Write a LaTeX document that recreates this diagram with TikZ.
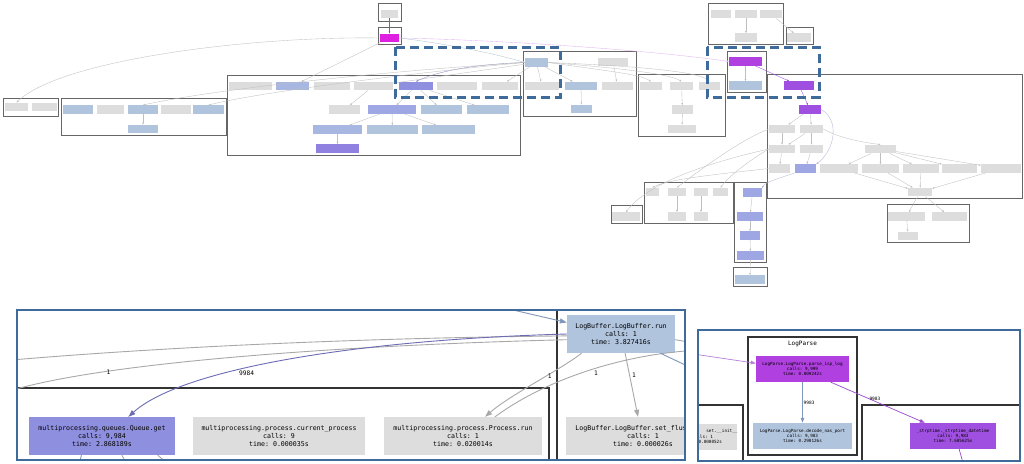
\documentclass[tikz,border=0pt]{standalone}
\usepackage{xcolor}
\usepackage{fontspec}
\setmonofont{DejaVu Sans Mono}
\usepackage{tikz}
\usetikzlibrary{arrows.meta}
\definecolor{nodegray}{HTML}{DDDDDD}
\definecolor{nodeblue}{HTML}{B0C4DE}
\definecolor{nodeviolet}{HTML}{8F8FE0}
\definecolor{nodelavender}{HTML}{9EA6E4}
\definecolor{nodeperi}{HTML}{A8B6E2}
\definecolor{nodepurple}{HTML}{9080E0}
\definecolor{nodeorchid}{HTML}{B040E0}
\definecolor{nodestrp}{HTML}{A050E0}
\definecolor{nodemagenta}{HTML}{E020E0}
\definecolor{panelblue}{HTML}{3E6A9C}
\definecolor{edgegray}{HTML}{A8A8A8}
\definecolor{edgeviolet}{HTML}{6C6CB4}
\definecolor{edgesteel}{HTML}{7F97B8}
\definecolor{edgeorchid}{HTML}{9A48CC}
\tikzset{
    tinynode/.style={inner sep=0pt,minimum height=8.5pt},
    bignode/.style={align=center,inner sep=0pt,minimum height=38pt,font=\ttfamily\fontsize{6.6}{8}\selectfont},
    smallnode/.style={align=center,inner sep=0pt,minimum height=26pt,font=\ttfamily\fontsize{4.3}{5.2}\selectfont},
    cluster/.style={draw=black!60,line width=0.7pt},
    bigcluster/.style={draw=black!80,line width=1.6pt},
    zoombox/.style={draw=panelblue,line width=3pt,dash pattern=on 9pt off 5pt},
    panel/.style={draw=panelblue,line width=2pt},
    tlink/.style={-{Triangle[length=2pt,width=1.6pt]},draw=black!25,line width=0.35pt},
    link/.style={->,draw=edgegray,line width=0.9pt},
    midlink/.style={-{Triangle[length=5pt,width=3.6pt]},draw=edgegray,line width=0.7pt},
    elabel/.style={font=\ttfamily\fontsize{6.2}{7}\selectfont,inner sep=1pt},
    slabel/.style={font=\ttfamily\fontsize{4.5}{5}\selectfont,inner sep=0.8pt},
    clabel/.style={font=\ttfamily\fontsize{6}{7}\selectfont,inner sep=0pt}
}
\begin{document}
\begin{tikzpicture}[x=1pt,y=-1pt,>={Triangle[length=7pt,width=5pt]}]
\fill[white] (0,0) rectangle (1024,463);
\useasboundingbox (0,0) rectangle (1024,463);

% overview of the whole call graph
\foreach \a/\b/\c/\d in {3/98/58/116, 61/98/226/135, 378/3/401/21, 378/27/401/44,
    227/75/520/155, 523/51/636/116, 638/74/725/136, 708/3/783/44, 786/27/813/44,
    727/51/766/92, 767/74/1022/198, 887/204/969/242, 611/205/642/223,
    644/182/733/223, 734/182/766/262, 733/267/767/286}
    \draw[cluster] (\a,\b) rectangle (\c,\d);

\foreach \n/\x/\y/\w/\c in {n1/16.5/107/23/nodegray, n2/44.5/107/25/nodegray,
    t1/78/109.5/30/nodeblue, t2/110.5/109.5/27/nodegray, t3/143/109.5/30/nodeblue,
    t4/176/109.5/30/nodegray, t5/208.5/109.5/31/nodeblue, t6/143/129/30/nodeblue,
    a1/389.5/14/17/nodegray, a2/389.5/38/19/nodemagenta,
    p1/250.5/86/43/nodegray, p2/292.5/86/33/nodeperi, p3/332/86/36/nodegray,
    p4/373.5/86/39/nodegray, p5/416/86/34/nodeviolet, p6/457/86/40/nodegray,
    p7/500/86/36/nodegray, p8/344.5/109.5/31/nodegray, p9/392/109.5/48/nodelavender,
    p10/441.5/109.5/41/nodeblue, p11/488/109.5/42/nodeblue, p12/337.5/129.5/49/nodeperi,
    p13/392.5/129.5/51/nodeblue, p14/448.5/129.5/53/nodeblue, p15/337.5/148.5/43/nodepurple,
    b1/536.5/62.5/23/nodeblue, b2/613/62/30/nodegray, b3/542/86/34/nodegray,
    b4/581/86/32/nodeblue, b5/617.5/86/31/nodegray, b6/581.5/109/21/nodeblue,
    s1/651/86/22/nodegray, s2/681.5/86/23/nodegray, s3/709.5/86/21/nodegray,
    s4/682.5/109.5/21/nodegray, s5/682/129/28/nodegray,
    r1/721/14/20/nodegray, r2/746/14/22/nodegray, r3/771/14/22/nodegray,
    r4/746/37.5/22/nodegray, r5/799/37.5/24/nodegray,
    l1/745.5/61.5/33/nodeorchid, l2/745.5/85.5/33/nodeblue,
    q1/799/85.5/30/nodestrp, q2/810/109.5/22/nodestrp,
    q3/782/129/26/nodegray, q4/811.5/129/23/nodegray, q5/782/149/26/nodegray,
    q6/811.5/149/23/nodegray, q7/880.5/149/31/nodegray, q8/779.5/168.5/21/nodegray,
    q9/805.5/168.5/21/nodelavender, q10/839/168.5/38/nodegray, q11/880.5/168.5/37/nodegray,
    q12/921/168.5/36/nodegray, q13/959.5/168.5/35/nodegray, q14/1001/168.5/40/nodegray,
    q15/920/192/24/nodegray, c1/906.5/216.5/37/nodegray, c2/949.5/216.5/35/nodegray,
    c3/908/236/20/nodegray, e1/626/216.5/28/nodegray,
    f1/652.5/192/13/nodegray, f2/677/192/18/nodegray, f3/701/192/14/nodegray,
    f4/720.5/192/15/nodegray, f5/677/216.5/18/nodegray, f6/701/216.5/14/nodegray,
    h1/752.5/192.5/19/nodelavender, h2/750/216.5/26/nodelavender,
    h3/750/235.5/20/nodelavender, h4/750.5/255.5/27/nodelavender, h5/750/279.5/30/nodeblue}
    \node[tinynode,fill=\c,minimum width=\w] (\n) at (\x,\y) {};

\foreach \a/\b in {b1/b3, b1/b4, b2/b5, b4/b6, p5/p9, p5/p10, p5/p11, p4/p8,
    p9/p12, p9/p13, p9/p14, p12/p15, l1/l2, q2/q3, q2/q4, q3/q5, q4/q5, q4/q6,
    q5/q8, q6/q9, q7/q10, q7/q11, q7/q12, q7/q13, q7/q14, q10/q15, q11/q15,
    q12/q15, q14/q15, q15/c1, q15/c2, c1/c3, h1/h2, h2/h3, h3/h4, h4/h5,
    r2/r4, r3/r5, s2/s4, s4/s5, f2/f5, f3/f6, t3/t6, a2/p2, b1/p7, b1/p4}
    \draw[tlink] (\a) -- (\b);

\draw[tlink,draw=nodemagenta] (a1) -- (a2);
\draw[tlink,draw=nodestrp] (l1) -- (q1);
\draw[tlink,draw=nodestrp] (q1) -- (q2);
\draw[tlink,draw=nodeorchid!40] (a2.east) .. controls (500,40) and (650,50) .. (l1.west);
\draw[tlink,draw=edgesteel!60] (a2.east) .. controls (450,44) and (500,55) .. (b1.west);
\draw[tlink,draw=edgeviolet!80] (b1.west) .. controls (480,64) and (440,70) .. (p5.north);
\draw[tlink] (a2.west) .. controls (250,36) and (60,60) .. (n1.north);
\draw[tlink] (b1.west) .. controls (400,70) and (220,88) .. (t3.north);
\draw[tlink] (b1.west) .. controls (420,72) and (260,92) .. (t5.north);
\draw[tlink] (b1.east) .. controls (600,70) and (640,74) .. (s1.north);
\draw[tlink] (b1.east) .. controls (620,68) and (670,74) .. (s2.north);
\draw[tlink] (b1.east) .. controls (640,66) and (700,72) .. (s3.north);
\draw[tlink] (q4.east) .. controls (840,138) and (860,142) .. (q7.north);
\draw[tlink,draw=edgeviolet!50] (q2.east) .. controls (840,120) and (835,150) .. (q9.north east);
\draw[tlink,draw=edgeviolet!50] (q9.south west) .. controls (780,178) and (765,182) .. (h1.north east);
\draw[tlink] (q3.west) .. controls (740,140) and (700,170) .. (f2.north);
\draw[tlink] (q5.west) .. controls (750,160) and (730,175) .. (f4.north);
\draw[tlink] (q5.west) .. controls (720,160) and (650,180) .. (e1.north);
\draw[tlink] (q8.west) .. controls (740,172) and (670,178) .. (f1.north);

\draw[zoombox] (395,47) rectangle (560,97);
\draw[zoombox] (707,47) rectangle (819,97);

% first close-up
\begin{scope}
\clip (17,310) rectangle (685,460);
\draw[bigcluster] (10,388) -- (549,388) -- (549,470);
\draw[bigcluster] (557,300) -- (557,470);
\node[bignode,fill=nodeblue,minimum width=108pt] (Run) at (621,334) {LogBuffer.LogBuffer.run\\calls: 1\\time: 3.827416s};
\node[bignode,fill=nodeviolet,minimum width=146pt] (Get) at (102,436) {multiprocessing.queues.Queue.get\\calls: 9,984\\time: 2.868189s};
\node[bignode,fill=nodegray,minimum width=172pt] (Cur) at (279,436) {multiprocessing.process.current\_process\\calls: 9\\time: 0.000035s};
\node[bignode,fill=nodegray,minimum width=158pt] (Proc) at (463,436) {multiprocessing.process.Process.run\\calls: 1\\time: 0.020014s};
\node[bignode,fill=nodegray,minimum width=154pt] (Flush) at (643,436) {LogBuffer.LogBuffer.set\_flus\hphantom{000000}\\calls: 1\\time: 0.000026s};
\coordinate (inA) at (470,300);
\coordinate (outL1) at (0,361);
\coordinate (outL2) at (0,394);
\coordinate (outR1) at (700,350);
\coordinate (outR2) at (700,372);
\coordinate (outR3) at (700,344);
\draw[link,draw=edgesteel] (inA) -- (Run.168);
\draw[link] (Run.182) .. controls (350,338) and (150,348) .. (outL1);
\draw[link] (Run.186) .. controls (350,345) and (100,362) .. (outL2) node[elabel,pos=0.74,anchor=west] {1};
\draw[link,draw=edgeviolet] (Run.180) .. controls (350,340) and (180,370) .. (Get.36) node[elabel,pos=0.59,below=1pt] {9984};
\draw[link] (Run.206) .. controls (560,370) and (510,395) .. (Proc.41) node[elabel,pos=0.4,right=1pt] {1};
\draw[link] (Proc.31) .. controls (545,380) and (620,355) .. (outR1) node[elabel,pos=0.53,below right=0pt] {1};
\draw[link] (Run.282) -- ([xshift=-5pt]Flush.north) node[elabel,pos=0.35,right=1pt] {1};
\draw[link,draw=edgesteel] (Run.334) -- (outR2);
\draw[link] (Run.354) -- (outR3);
\draw[link,draw=edgesteel] (Get.223.5) -- (78,470);
\draw[link] (Get.316.5) -- (130,470);
\draw[link] (Get.341) -- (175,470);
\end{scope}
\draw[panel] (17,310) rectangle (685,460);

% second close-up
\begin{scope}
\clip (698,330) rectangle (1020,461);
\draw[bigcluster] (748,337) rectangle (857,455);
\node[clabel] (lpTitle) at (802.5,344) {LogParse};
\draw[bigcluster] (690,405) -- (743,405) -- (743,470);
\draw[bigcluster] (862,470) -- (862,405) -- (1030,405);
\node[smallnode,fill=nodeorchid,minimum width=93pt] (Parse) at (802.5,369) {LogParse.LogParse.parse\_isp\_log\\calls: 9,999\\time: 0.009242s};
\node[smallnode,fill=nodeblue,minimum width=99pt] (Decode) at (802.5,436) {LogParse.LogParse.decode\_nas\_port\\calls: 9,983\\time: 0.290126s};
\node[smallnode,fill=nodestrp,minimum width=86pt] (Strp) at (953,436) {\_strptime.\_strptime\_datetime\\calls: 9,983\\time: 7.605625s};
\node[smallnode,fill=nodegray,minimum width=69pt] (Init) at (702.5,436.5) {\hphantom{000000000000000}set.\_\_init\_\_\\calls: 1\\time: 0.000052s};
\coordinate (inP) at (680,352);
\draw[midlink,draw=edgeorchid!70] (inP) -- (Parse.173);
\draw[midlink,draw=edgesteel] (Parse.south) -- (Decode.north) node[slabel,midway,right=0pt] {9983};
\draw[midlink,draw=edgeorchid] (Parse.335) -- (Strp.155) node[slabel,pos=0.47,above=0pt] {9983};
\draw[midlink,draw=edgeorchid] (Strp.295) -- (965,470);
\end{scope}
\draw[panel] (698,330) rectangle (1020,461);
\end{tikzpicture}
\end{document}
